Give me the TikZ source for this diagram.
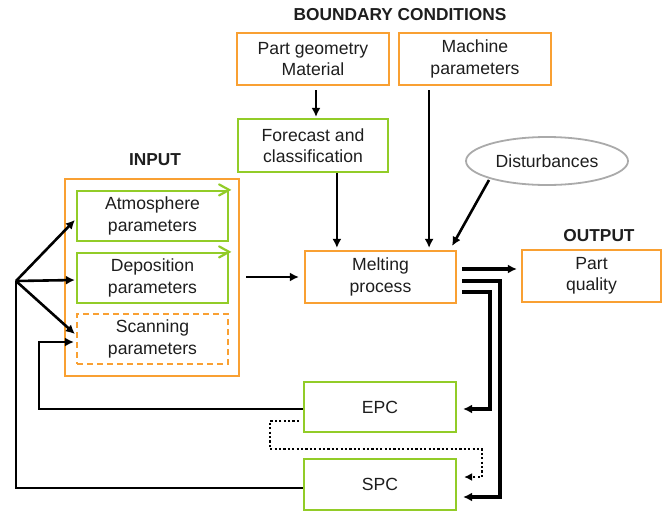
\documentclass[tikz,border=0pt]{standalone}
\usepackage{fontspec}
\setmainfont{Liberation Sans}
\usetikzlibrary{arrows.meta,shapes.geometric,calc}
\definecolor{org}{RGB}{249,160,50}
\definecolor{grn}{RGB}{146,204,40}
\definecolor{gry}{RGB}{170,170,170}
\definecolor{txt}{RGB}{30,30,30}
\begin{document}
\begin{tikzpicture}[x=1pt,y=-1pt,
  lbl/.style={text=txt,font=\fontsize{17.6}{21.2}\selectfont,align=center,inner sep=0pt},
  ttl/.style={text=txt,font=\fontsize{17.3}{21}\selectfont\bfseries,inner sep=0pt},
  obox/.style={lbl,draw=org,line width=2.2pt,rectangle},
  gbox/.style={lbl,draw=grn,line width=2.2pt,rectangle},
  arr/.style={draw=black,line width=2.6pt,-{Latex[length=9pt,width=9pt]}},
  thk/.style={draw=black,line width=3.6pt,-{Latex[length=9pt,width=9pt]}},
  chev/.style={draw=grn,line width=2.2pt,line cap=round,line join=miter}
]
\useasboundingbox (0,0) rectangle (662,512);

% titles
\node[ttl] (tbc) at (400,15) {BOUNDARY CONDITIONS};
\node[ttl] (tin) at (155,160) {INPUT};
\node[ttl] (tout) at (599,236) {OUTPUT};

% boundary boxes
\node[obox,minimum width=152pt,minimum height=52pt] (pg) at (313,59) {Part geometry\\Material};
\node[obox,minimum width=152pt,minimum height=52pt] (mp) at (475,59) {Machine\\parameters};
\node[gbox,minimum width=150pt,minimum height=53pt] (fc) at (313,145.5) {Forecast and\\classification};
\node[lbl,draw=gry,line width=1.8pt,ellipse,minimum width=162pt,minimum height=48pt] (dist) at (547,161) {Disturbances};

% input
\node[draw=org,line width=2.2pt,minimum width=174pt,minimum height=197pt,inner sep=0pt] (inp) at (152,277.5) {};
\node[gbox,minimum width=151pt,minimum height=50pt] (atm) at (152.5,216) {Atmosphere\\parameters};
\node[gbox,minimum width=151pt,minimum height=50pt] (dep) at (152.5,278) {Deposition\\parameters};
\node[obox,dash pattern=on 6pt off 4pt,minimum width=151pt,minimum height=50pt] (scn) at (152.5,339) {Scanning\\parameters};

% green chevrons on top-right corners
\draw[chev] ([xshift=-10pt,yshift=5.5pt]atm.north east) -- (atm.north east) -- ([xshift=-10pt,yshift=-5.5pt]atm.north east);
\draw[chev] ([xshift=-10pt,yshift=5.5pt]dep.north east) -- (dep.north east) -- ([xshift=-10pt,yshift=-5.5pt]dep.north east);

% process / output / control
\node[obox,minimum width=151pt,minimum height=52pt] (melt) at (380.5,277) {Melting\\process};
\node[obox,minimum width=139pt,minimum height=52pt] (pq) at (591.5,276) {Part\\quality};
\node[gbox,minimum width=152pt,minimum height=50pt] (epc) at (380,407) {EPC};
\node[gbox,minimum width=152pt,minimum height=51pt] (spc) at (380,484.5) {SPC};

% connectors top
\draw[arr] ([xshift=3pt,yshift=-4pt]pg.south) -- ([xshift=3pt,yshift=1pt]fc.north);
\draw[arr] ([xshift=33pt]melt.north west |- fc.south) -- ([xshift=33pt,yshift=2pt]melt.north west);
\draw[arr] ([xshift=-28pt,yshift=-4pt]melt.north east |- mp.south) -- ([xshift=-28pt,yshift=2pt]melt.north east);
\draw[arr] ([shift={(-58pt,-19pt)}]dist.center) -- ([xshift=-5pt,yshift=4pt]melt.north east);

% input -> melting
\draw[arr] ([xshift=6pt]inp.east |- melt.west) -- ([xshift=-5pt]melt.west);

% melting -> outputs
\draw[thk] ([xshift=5pt,yshift=8pt]melt.east) -- ([xshift=-4pt,yshift=7pt]pq.west);
\draw[thk] ([xshift=5pt,yshift=-4pt]melt.east) -- ++(38,0) |- ([xshift=6pt,yshift=-12.5pt]spc.east);
\draw[thk] ([xshift=5pt,yshift=-15pt]melt.east) -- ++(28,0) |- ([xshift=6pt,yshift=-2pt]epc.east);

% dotted EPC -> SPC
\draw[line width=2.6pt,dash pattern=on 2.2pt off 2.2pt,-{Latex[length=8pt,width=8pt]}]
  ([xshift=-4pt,yshift=-14pt]epc.west) -- ++(-29,0) -- ++(0,28) -- ++(212,0) -- ++(0,28) -- ([xshift=7pt,yshift=7.5pt]spc.east);

% feedback EPC -> scanning
\draw[arr] ([yshift=-2pt]epc.west) -- ++(-264,0) |- ([xshift=-2pt,yshift=-3pt]scn.west);

% feedback SPC -> fan
\coordinate (fan) at (16,281);
\draw[line width=2.6pt] ([yshift=-3.5pt]spc.west) -| (fan);
\draw[arr] (fan) -- ([xshift=-1pt,yshift=-4pt]atm.west);
\draw[arr] (fan) -- ([xshift=-1pt,yshift=-2pt]dep.west);
\draw[arr] (fan) -- ([xshift=-1pt,yshift=5pt]scn.west);
\end{tikzpicture}
\end{document}
